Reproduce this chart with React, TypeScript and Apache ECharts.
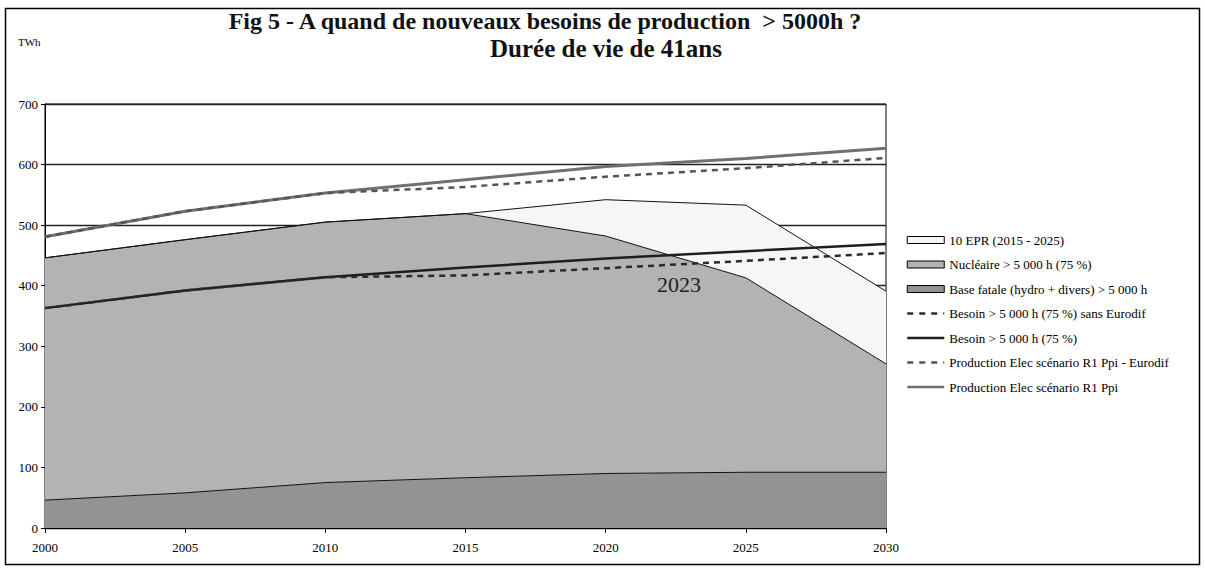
import React, { useEffect, useRef } from "react";
import * as echarts from "echarts";

const years = ["2000", "2005", "2010", "2015", "2020", "2025", "2030"];
const baseFatale = [46, 58, 75, 83, 90, 92, 92];
const nucleaire = [400, 418, 430, 436, 392, 321, 179];
const epr = [0, 0, 0, 0, 60, 120, 120];
const besoinSansEurodif = [363, 392, 414, 417, 429, 441, 454];
const besoin = [363, 392, 414, 430, 445, 457, 469];
const prodEurodif = [481, 523, 553, 563, 580, 594, 611];
const prodR1 = [481, 523, 553, 575, 597, 610, 627];
const yTicks = [0, 100, 200, 300, 400, 500, 600, 700];

const NAMES = {
  epr: "10 EPR (2015 - 2025)",
  nuc: "Nucléaire > 5 000 h (75 %)",
  base: "Base fatale (hydro + divers) > 5 000 h",
  besSans: "Besoin > 5 000 h (75 %) sans Eurodif",
  bes: "Besoin > 5 000 h (75 %)",
  prodEu: "Production Elec scénario R1 Ppi - Eurodif",
  prod: "Production Elec scénario R1 Ppi",
};

const SERIF = "'Liberation Serif', 'DejaVu Serif', serif";

export default function App() {
  const ref = useRef<HTMLDivElement>(null);
  useEffect(() => {
    if (!ref.current) return;
    const chart = echarts.init(ref.current, undefined, { renderer: "svg" });
    const areaSeries = (name: string, vals: number[], color: string) => ({
      name,
      type: "line",
      stack: "total",
      data: vals,
      symbol: "none",
      lineStyle: { color: "#111", width: 1 },
      itemStyle: { color },
      areaStyle: { color, opacity: 1 },
      z: 2,
    });
    const lineSeries = (name: string, vals: number[], color: string, width: number, dashed: boolean, z: number) => ({
      name,
      type: "line",
      data: vals,
      symbol: "none",
      lineStyle: { color, width, type: dashed ? [6, 5] : "solid" },
      itemStyle: { color },
      z,
    });
    const lineLegend = (name: string, dashed: boolean) => ({
      name,
      itemStyle: { opacity: 0 },
      lineStyle: { width: 2.5, type: dashed ? [6, 6] : "solid" },
    });
    chart.setOption({
      animation: false,
      backgroundColor: "#fff",
      textStyle: { fontFamily: SERIF },
      grid: {
        left: 45,
        right: 319,
        top: 104,
        bottom: 40,
        show: true,
        borderColor: "#000",
        borderWidth: 1,
        backgroundColor: "#fff",
        z: 0,
      },
      xAxis: {
        type: "category",
        data: years,
        boundaryGap: false,
        axisLine: { show: true, lineStyle: { color: "#000", width: 1 } },
        axisTick: { show: true, length: 5, lineStyle: { color: "#000" } },
        splitLine: { show: false },
        axisLabel: { color: "#000", fontSize: 13, fontFamily: SERIF, margin: 13 },
      },
      yAxis: {
        type: "value",
        min: yTicks[0],
        max: yTicks[yTicks.length - 1],
        interval: 100,
        axisLine: { show: true, lineStyle: { color: "#000", width: 1 } },
        axisTick: { show: true, length: 4, lineStyle: { color: "#000" } },
        splitLine: { show: true, lineStyle: { color: "#222", width: 1.3 } },
        axisLabel: { color: "#000", fontSize: 13, fontFamily: SERIF, margin: 7 },
      },
      legend: {
        orient: "vertical",
        left: 901,
        top: 228,
        itemWidth: 37,
        itemHeight: 7,
        itemGap: 10.5,
        textStyle: { color: "#000", fontSize: 13, fontFamily: SERIF, lineHeight: 14 },
        data: [
          { name: NAMES.epr, icon: "rect", itemStyle: { color: "#f6f6f6", borderColor: "#000", borderWidth: 1 } },
          { name: NAMES.nuc, icon: "rect", itemStyle: { color: "#b3b3b3", borderColor: "#000", borderWidth: 1 } },
          { name: NAMES.base, icon: "rect", itemStyle: { color: "#939393", borderColor: "#000", borderWidth: 1 } },
          lineLegend(NAMES.besSans, true),
          lineLegend(NAMES.bes, false),
          lineLegend(NAMES.prodEu, true),
          lineLegend(NAMES.prod, false),
        ],
      },
      series: [
        areaSeries(NAMES.base, baseFatale, "#939393"),
        areaSeries(NAMES.nuc, nucleaire, "#b3b3b3"),
        areaSeries(NAMES.epr, epr, "#f6f6f6"),
        lineSeries(NAMES.bes, besoin, "#1e1e1e", 2.5, false, 4),
        lineSeries(NAMES.besSans, besoinSansEurodif, "#2a2a2a", 2.5, true, 5),
        lineSeries(NAMES.prod, prodR1, "#707070", 3, false, 4),
        lineSeries(NAMES.prodEu, prodEurodif, "#555555", 2.5, true, 5),
      ],
      graphic: [
        {
          type: "rect",
          shape: { x: 5.5, y: 8.5, width: 1194, height: 556 },
          style: { fill: "none", stroke: "#000", lineWidth: 1.5 },
          z: 100,
        },
        {
          type: "text",
          x: 545,
          y: 21,
          style: {
            text: "Fig 5 - A quand de nouveaux besoins de production  > 5000h ?",
            font: `bold 24px ${SERIF}`,
            fill: "#111",
            align: "center",
            verticalAlign: "middle",
          },
          z: 100,
        },
        {
          type: "text",
          x: 606,
          y: 48,
          style: {
            text: "Durée de vie de 41ans",
            font: `bold 25px ${SERIF}`,
            fill: "#111",
            align: "center",
            verticalAlign: "middle",
          },
          z: 100,
        },
        {
          type: "text",
          x: 18,
          y: 42,
          style: { text: "TWh", font: `11px ${SERIF}`, fill: "#000", align: "left", verticalAlign: "middle" },
          z: 100,
        },
        {
          type: "text",
          x: 679,
          y: 284,
          style: { text: "2023", font: `22px ${SERIF}`, fill: "#222", align: "center", verticalAlign: "middle" },
          z: 100,
        },
      ],
    });
    return () => chart.dispose();
  }, []);
  return <div ref={ref} style={{ position: "absolute", left: 0, top: 0, width: 1205, height: 568 }} />;
}
